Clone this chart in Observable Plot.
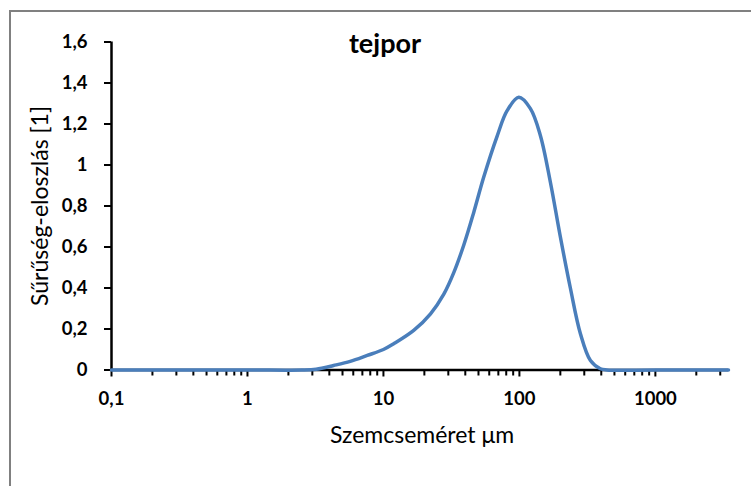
<!DOCTYPE html>
<html>
<head>
<meta charset="utf-8">
<script src="https://cdn.jsdelivr.net/npm/d3@7"></script>
<script src="https://cdn.jsdelivr.net/npm/@observablehq/plot@0.6"></script>
<style>
  html, body { margin: 0; padding: 0; background: #fff; overflow: hidden; }
  #wrap { position: relative; width: 751px; height: 486px; }
  #border { position: absolute; left: 9px; top: 10px; width: 900px; height: 900px;
            border: 2px solid #808080; box-sizing: border-box; }
  #chart { position: absolute; left: 0; top: 0; }
  #chart svg { background: transparent; }
</style>
</head>
<body>
<div id="wrap">
  <div id="border"></div>
  <div id="chart"></div>
</div>
<script>
// Particle size distribution of milk powder (density vs. size, µm, log scale)
const sizes = [0.1, 1, 2.5, 3.2, 4.3, 5.7, 7.6, 10, 11.9, 16.7, 22.2, 27.8, 32.9, 39, 46.2, 54.6, 68.5, 81.2, 99, 120.5, 142.6, 169, 200, 237, 281, 333, 394, 440, 1000, 3450];
const density = [0, 0, 0, 0.004, 0.022, 0.042, 0.071, 0.1, 0.128, 0.193, 0.274, 0.37, 0.475, 0.61, 0.77, 0.94, 1.14, 1.265, 1.33, 1.275, 1.144, 0.916, 0.65, 0.4, 0.177, 0.046, 0.006, 0, 0, 0];

const xMajorTicks = [0.1, 1, 10, 100, 1000];
const yTicks = [0, 0.2, 0.4, 0.6, 0.8, 1, 1.2, 1.4, 1.6];
const xDomain = [0.1, 3450];

const title = "tejpor";
const xTitle = "Szemcseméret μm";
const yTitle = "Sűrűség-eloszlás [1]";

const data = sizes.map((s, i) => ({size: s, value: density[i]}));
const comma = d => String(d).replace(".", ",");
const xMinorTicks = d3.scaleLog().domain(xDomain).ticks().filter(t => !xMajorTicks.includes(t));

const font = "Lato, 'Open Sans', sans-serif";

const chart = Plot.plot({
  width: 751,
  height: 486,
  marginLeft: 111,
  marginRight: 23,
  marginTop: 41.5,
  marginBottom: 116.5,
  style: {fontFamily: font, fontSize: "18.5px", color: "#000", background: "transparent"},
  x: {type: "log", domain: xDomain},
  y: {domain: [0, 1.6]},
  marks: [
    Plot.axisY({ticks: yTicks, tickSize: 7, tickPadding: 17, tickFormat: comma, label: null,
                fontWeight: "bold", strokeWidth: 2}),
    Plot.axisX({ticks: xMinorTicks, tickSize: 6, tickFormat: () => "", label: null, strokeWidth: 2}),
    Plot.axisX({ticks: xMajorTicks, tickSize: 7, tickPadding: 15, tickFormat: comma, label: null,
                fontWeight: "bold", strokeWidth: 2}),
    Plot.ruleX([xDomain[0]], {stroke: "#000", strokeWidth: 2.5}),
    Plot.ruleY([0], {stroke: "#000", strokeWidth: 2.5}),
    Plot.line(data, {x: "size", y: "value", stroke: "#4a7ebb", strokeWidth: 3.5, curve: "catmull-rom"}),
    Plot.text([title], {frameAnchor: "top", dx: -35, dy: 10.5, lineAnchor: "bottom",
                        fontWeight: "bold", fontSize: 27}),
    Plot.text([xTitle], {frameAnchor: "bottom", dx: 2, dy: 72.5, lineAnchor: "bottom", fontSize: 23}),
    Plot.text([yTitle], {frameAnchor: "left", dx: -71, rotate: -90, textAnchor: "middle",
                         lineAnchor: "middle", fontSize: 23})
  ]
});
document.getElementById("chart").appendChild(chart);
</script>
</body>
</html>
